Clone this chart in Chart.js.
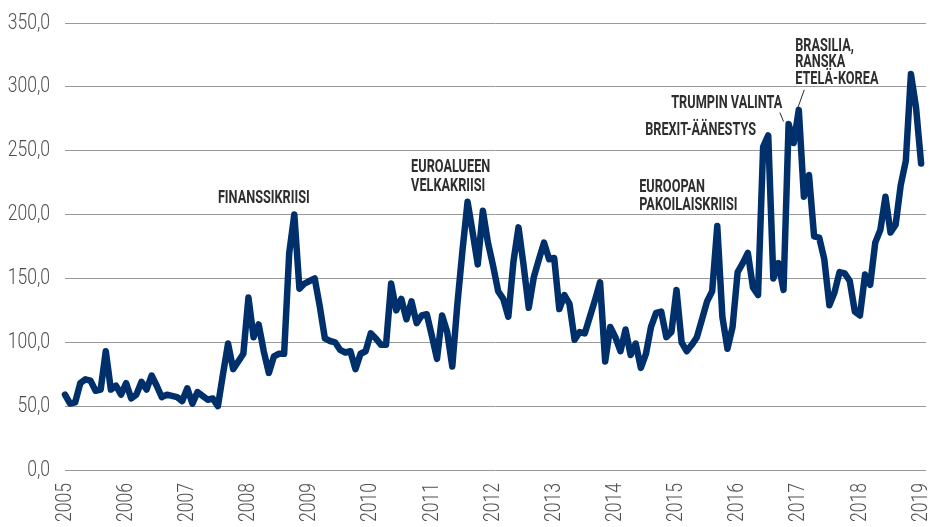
<!DOCTYPE html>
<html>
<head>
<meta charset="utf-8">
<script src="https://cdn.jsdelivr.net/npm/chart.js@4.4.1/dist/chart.umd.min.js"></script>
<style>
  html, body { margin: 0; padding: 0; background: #fff; }
  #chart { display: block; }
</style>
</head>
<body>
<canvas id="chart" width="930" height="527"></canvas>
<script>
// kuukausittaiset arvot, tammikuu 2005 - tammikuu 2019
const startYear = 2005;
const values = [
  59, 52, 53, 68, 71, 70, 62, 63, 93, 63, 66, 59,
  68, 56, 59, 69, 63, 74, 66, 57, 59, 58, 57, 54,
  64, 52, 61, 58, 55, 56, 50, 75, 99, 79, 85, 91,
  135, 104, 114, 93, 76, 89, 91, 91, 170, 200, 142, 146,
  148, 150, 128, 103, 101, 100, 94, 92, 93, 79, 91, 93,
  107, 103, 98, 98, 146, 125, 134, 118, 132, 115, 121, 122,
  105, 87, 121, 108, 81, 130, 172, 210, 186, 161, 203, 178,
  160, 140, 134, 120, 163, 190, 160, 127, 151, 165, 178, 165,
  166, 126, 137, 130, 102, 108, 107, 120, 133, 147, 85, 112,
  104, 93, 110, 90, 99, 80, 91, 112, 123, 124, 104, 108,
  141, 100, 93, 98, 104, 118, 132, 140, 191, 120, 95, 112,
  155, 162, 170, 143, 137, 253, 262, 150, 162, 141, 271, 256,
  282, 214, 231, 183, 182, 165, 129, 139, 155, 154, 148, 124,
  121, 153, 145, 178, 188, 214, 186, 192, 223, 242, 310, 284, 240
];
const yearTicks = [2005, 2006, 2007, 2008, 2009, 2010, 2011, 2012, 2013, 2014, 2015, 2016, 2017, 2018, 2019];
const valueTicks = [0, 50, 100, 150, 200, 250, 300, 350];

// tapahtumat (x = vuosi, y = arvo)
const notes = [
  { text: ['FINANSSIKRIISI'], x: 2007.50, y: 209, align: 'left', lh: 19 },
  { text: ['EUROALUEEN', 'VELKAKRIISI'], x: 2010.66, y: 233.4, align: 'left', lh: 19 },
  { text: ['EUROOPAN', 'PAKOILAISKRIISI'], x: 2014.39, y: 217.7, align: 'left', lh: 18 },
  { text: ['BREXIT-ÄÄNESTYS'], x: 2016.30, y: 262.3, align: 'right', lh: 18 },
  { text: ['TRUMPIN VALINTA'], x: 2016.73, y: 283.5, align: 'right', lh: 18 },
  { text: ['BRASILIA,', 'RANSKA', 'ETELÄ-KOREA'], x: 2016.94, y: 328.1, align: 'left', lh: 16.5 }
];
const leaders = [
  { x1: 2016.69, y1: 279.9, x2: 2016.75, y2: 272.9 },
  { x1: 2017.09, y1: 297.7, x2: 2016.99, y2: 284.4 }
];

const tickFont = "300 22.5px Roboto, 'DejaVu Sans', sans-serif";
const noteFont = "bold 18.7px Roboto, 'DejaVu Sans', sans-serif";

// kapeaa tekstiä varten: piirretään vaakasuunnassa puristettuna
function narrowText(ctx, text, x, y, sx, align, rot) {
  ctx.save();
  ctx.translate(x, y);
  if (rot) ctx.rotate(rot);
  ctx.scale(sx, 1);
  ctx.textAlign = align;
  ctx.fillText(text, 0, 0);
  ctx.restore();
}

const labelsPlugin = {
  id: 'labels',
  afterDraw(chart) {
    const { ctx, scales: { x, y } } = chart;
    ctx.save();
    ctx.fillStyle = '#505050';
    ctx.font = tickFont;
    ctx.textBaseline = 'middle';
    y.ticks.forEach(t => {
      narrowText(ctx, t.value.toFixed(1).replace('.', ','), y.right - 15, y.getPixelForValue(t.value), 0.78, 'right');
    });
    x.ticks.forEach(t => {
      narrowText(ctx, String(t.value), x.getPixelForValue(t.value), x.top + 13, 0.78, 'right', -Math.PI / 2);
    });

    ctx.fillStyle = '#2e2e2e';
    ctx.font = noteFont;
    ctx.textBaseline = 'alphabetic';
    notes.forEach(n => {
      const px = x.getPixelForValue(n.x);
      const py = y.getPixelForValue(n.y);
      n.text.forEach((line, k) => narrowText(ctx, line, px, py + k * n.lh, 0.68, n.align));
    });
    ctx.strokeStyle = '#2e2e2e';
    ctx.lineWidth = 1;
    leaders.forEach(l => {
      ctx.beginPath();
      ctx.moveTo(x.getPixelForValue(l.x1), y.getPixelForValue(l.y1));
      ctx.lineTo(x.getPixelForValue(l.x2), y.getPixelForValue(l.y2));
      ctx.stroke();
    });
    ctx.restore();
  }
};

const ctx = document.getElementById('chart').getContext('2d');
new Chart(ctx, {
  type: 'line',
  data: {
    datasets: [{
      data: values.map((v, i) => ({ x: startYear + i / 12, y: v })),
      borderColor: '#00306b',
      borderWidth: 6.5,
      borderJoinStyle: 'round',
      borderCapStyle: 'round',
      pointRadius: 0,
      tension: 0,
      fill: false,
      clip: false
    }]
  },
  options: {
    responsive: false,
    animation: false,
    devicePixelRatio: 1,
    layout: { padding: { top: 23, right: 4, left: 0, bottom: 0 } },
    plugins: {
      legend: { display: false },
      tooltip: { enabled: false }
    },
    scales: {
      x: {
        type: 'linear',
        min: 2005,
        max: 2019.08,
        grid: { display: false },
        border: { display: false },
        afterBuildTicks: s => { s.ticks = yearTicks.map(v => ({ value: v })); },
        afterFit: s => { s.height = 57; s.paddingLeft = 0; s.paddingRight = 0; },
        ticks: { display: false }
      },
      y: {
        min: 0,
        max: 350,
        afterBuildTicks: s => { s.ticks = valueTicks.map(v => ({ value: v })); },
        afterFit: s => { s.width = 65; s.paddingTop = 0; s.paddingBottom = 0; },
        grid: { color: '#9a9a9a', lineWidth: 1, drawTicks: false },
        border: { display: false },
        ticks: { display: false }
      }
    }
  },
  plugins: [labelsPlugin]
});
</script>
</body>
</html>
